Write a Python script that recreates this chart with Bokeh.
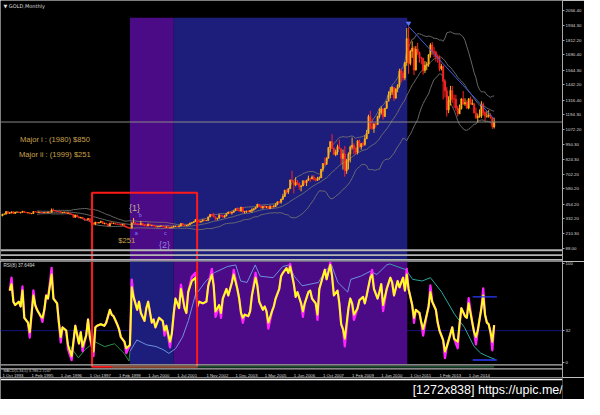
import numpy as np
import pandas as pd
from bokeh.plotting import figure
from bokeh.models import Range1d, FixedTicker, PrintfTickFormatter, Label, Span, ColumnDataSource
from bokeh.layouts import column
from bokeh.embed import file_html
from bokeh.resources import INLINE
from bokeh.core.properties import value

# ---------------- data ----------------
date_ticks = [0, 16, 32, 48, 64, 80, 96, 112, 128, 144, 160, 176, 192, 208, 224, 240, 256]
date_labels = ["1 Oct 1993", "1 Feb 1995", "1 Jun 1996", "1 Oct 1997", "1 Feb 1999", "1 Jun 2000",
               "1 Jul 2001", "1 Nov 2002", "1 Dec 2003", "1 Mar 2005", "1 Jun 2006", "1 Oct 2007",
               "1 Feb 2009", "1 Jun 2010", "1 Oct 2011", "1 Feb 2013", "1 Jun 2014"]
price_ticks = [88.00, 210.30, 332.20, 454.20, 580.20, 702.20, 824.30, 950.30, 1072.20, 1194.30,
               1316.40, 1442.20, 1564.30, 1690.40, 1812.20, 1934.30, 2056.40]
rsi_ticks = [0, 32, 100]
last_price = 1134.40

first_open = 355.5
closes = [
    369.6, 370.9, 391.8,
    377.9, 381.5, 389.8, 376.5, 387.6, 388.0, 384.0, 385.8, 394.9, 383.9, 383.1, 383.3,
    374.9, 376.4, 392.0, 389.8, 385.3, 387.1, 383.4, 382.4, 384.0, 382.7, 387.8, 387.0,
    405.4, 401.0, 396.3, 392.8, 390.9, 382.0, 385.3, 386.5, 379.2, 379.3, 371.3, 369.0,
    345.5, 363.9, 348.2, 340.2, 344.8, 334.6, 326.4, 325.4, 332.1, 311.4, 296.8, 289.9,
    304.5, 297.3, 301.0, 310.3, 293.6, 296.3, 288.9, 273.4, 293.9, 292.3, 294.7, 288.2,
    287.6, 287.3, 279.5, 286.6, 268.6, 261.3, 255.6, 254.8, 299.0, 299.1, 291.4, 290.3,
    283.7, 293.7, 278.4, 273.6, 272.3, 288.2,
    276.8, 278.3, 273.7, 264.5, 266.0, 269.1, 272.7, 265.6, 262.0, 266.7, 257.7, 259.0, 263.2, 267.2, 270.6,
    266.2, 273.0, 293.1, 278.8, 275.5, 276.5, 282.3, 296.8, 301.4, 308.2, 326.6, 318.5, 304.6, 312.8, 323.7, 316.9, 317.7,
    347.2, 367.5, 360.0, 347.5, 334.9, 336.8, 361.4, 355.0, 346.0, 354.8, 375.6, 388.0, 380.0, 386.3, 398.0,
    416.3,
    402.2, 396.8, 427.3, 388.5, 393.5, 395.5, 391.4, 400.0, 408.0, 415.6, 428.6, 453.0, 438.0, 422.3, 436.0,
    427.9,
    435.1, 416.5, 437.0, 429.5, 433.8, 450.0, 473.2, 470.3, 495.3, 517.0, 568.8, 556.0, 582.0, 654.5, 643.0,
    613.5, 632.5, 623.5, 599.3, 604.2, 646.7, 632.0,
    650.5, 665.5, 661.8, 677.0, 658.0, 650.5, 665.5, 672.0, 743.0, 789.5, 783.5, 833.8,
    923.3, 971.5, 916.0, 864.3, 885.8, 929.3, 912.8, 833.0, 870.5, 730.0, 814.5, 869.8,
    927.3, 942.0, 916.5, 883.3, 979.4, 927.3, 954.8, 948.8, 996.0, 1040.0, 1180.0, 1096.0,
    1081.0, 1118.0, 1113.0, 1180.0, 1213.0, 1244.0, 1181.0, 1248.0, 1307.0, 1357.0, 1384.0, 1421.0,
    1333.0, 1410.0, 1439.0, 1556.0, 1536.0, 1500.0, 1628.0, 1826.0, 1620.0, 1722.0, 1746.0, 1565.0,
    1737.0, 1710.0, 1669.0, 1664.0, 1561.0, 1604.0, 1615.0, 1692.0, 1773.0, 1719.0, 1712.0, 1675.0,
    1663.0, 1578.0, 1596.0, 1472.0, 1393.0, 1234.0, 1313.0, 1396.0, 1327.0, 1323.0, 1250.0, 1202.0,
    1244.0, 1326.0, 1284.0, 1296.0, 1250.0, 1327.0, 1282.0, 1287.0, 1210.0, 1171.0, 1183.0, 1183.0,
    1279.0, 1213.0, 1183.0, 1184.0, 1190.0, 1172.0, 1095.0, 1134.4,
]
highs = [
    374.5, 377.5, 395.5,
    396.0, 388.0, 392.0, 392.0, 390.0, 392.5, 392.0, 388.0, 397.0, 396.5, 389.5, 385.5,
    383.0, 380.0, 394.0, 396.0, 391.0, 391.0, 389.0, 389.0, 387.0, 387.0, 390.0, 389.0,
    418.0, 417.0, 401.5, 397.0, 395.0, 392.0, 387.5, 389.0, 387.0, 385.0, 382.0, 375.0,
    369.5, 365.0, 365.0, 349.0, 347.5, 346.0, 335.0, 331.0, 340.0, 339.0, 312.0, 299.0,
    307.0, 305.0, 302.0, 317.0, 311.0, 300.0, 298.0, 289.0, 300.0, 315.0, 301.0, 297.0,
    293.0, 291.0, 290.0, 291.0, 289.0, 269.0, 266.0, 259.0, 302.0, 339.0, 302.0, 294.0,
    292.0, 315.0, 294.0, 289.0, 280.0, 293.0,
    292.0, 280.0, 279.0, 275.0, 270.0, 272.0, 276.0, 273.0, 268.0, 268.0, 270.0, 264.0, 267.0, 276.0, 275.0,
    272.0, 280.0, 294.0, 294.0, 284.0, 281.0, 286.0, 300.0, 304.0, 311.0, 328.0, 331.0, 323.0, 315.0, 326.0, 325.0, 323.0,
    350.0, 372.0, 375.0, 382.0, 352.0, 340.0, 373.0, 366.0, 366.0, 365.0, 377.0, 390.0, 390.0, 391.0, 400.0,
    417.0,
    427.0, 419.0, 432.0, 428.0, 396.0, 399.0, 404.0, 406.0, 418.0, 419.0, 431.0, 456.0, 456.0, 440.0, 438.0,
    446.0,
    437.0, 435.0, 443.0, 437.0, 448.0, 462.0, 474.0, 480.0, 497.0, 539.0, 573.0, 575.0, 584.0, 656.0, 730.0,
    651.0, 677.0, 653.0, 634.0, 613.0, 651.0, 649.0,
    656.0, 690.0, 672.0, 691.0, 694.0, 672.0, 680.0, 684.0, 744.0, 795.0, 841.0, 842.0,
    925.0, 975.0, 1033.0, 924.0, 906.0, 947.0, 988.0, 915.0, 906.0, 936.0, 829.0, 883.0,
    939.0, 1006.0, 958.0, 926.0, 980.0, 990.0, 961.0, 970.0, 1026.0, 1069.0, 1195.0, 1227.0,
    1162.0, 1124.0, 1137.0, 1186.0, 1249.0, 1265.0, 1245.0, 1251.0, 1307.0, 1388.0, 1424.0, 1432.0,
    1424.0, 1411.0, 1448.0, 1576.0, 1578.0, 1556.0, 1632.0, 1913.0, 1920.0, 1733.0, 1804.0, 1763.0,
    1764.0, 1791.0, 1718.0, 1677.0, 1667.0, 1640.0, 1632.0, 1697.0, 1788.0, 1796.0, 1755.0, 1726.0,
    1696.0, 1686.0, 1617.0, 1603.0, 1488.0, 1424.0, 1348.0, 1434.0, 1433.0, 1362.0, 1361.0, 1267.0,
    1280.0, 1332.0, 1392.0, 1331.0, 1315.0, 1332.0, 1345.0, 1322.0, 1287.0, 1255.0, 1205.0, 1239.0,
    1307.0, 1296.0, 1224.0, 1224.0, 1232.0, 1205.0, 1175.0, 1170.0,
]
lows = [
    354.5, 367.0, 368.5,
    374.0, 374.0, 378.0, 371.5, 374.5, 381.0, 380.0, 376.0, 384.0, 383.0, 380.0, 376.5,
    371.5, 371.5, 373.0, 387.5, 382.0, 382.0, 382.0, 380.0, 381.0, 380.5, 382.0, 384.0,
    386.0, 396.0, 393.0, 390.0, 390.0, 379.0, 380.0, 384.0, 378.0, 375.0, 368.0, 366.0,
    343.0, 340.0, 347.0, 337.0, 338.0, 334.0, 314.0, 320.0, 322.0, 307.0, 294.0, 283.0,
    278.0, 294.0, 293.0, 301.0, 290.0, 286.0, 287.0, 272.0, 273.0, 291.0, 290.0, 286.0,
    285.0, 282.0, 278.0, 279.0, 268.0, 258.0, 252.0, 251.5, 254.0, 296.0, 287.0, 279.0,
    281.0, 282.0, 276.0, 271.0, 270.0, 272.0,
    276.0, 271.0, 270.0, 263.0, 262.0, 263.0, 267.0, 263.0, 258.0, 255.0, 255.0, 255.0, 255.0, 262.0, 265.0,
    264.0, 264.0, 271.0, 278.0, 270.0, 271.0, 277.0, 282.0, 288.0, 299.0, 307.0, 315.0, 301.0, 302.0, 311.0, 313.0, 314.0,
    317.0, 345.0, 352.0, 345.0, 319.0, 320.0, 336.0, 350.0, 342.0, 342.0, 354.0, 373.0, 370.0, 367.0, 383.0,
    398.0,
    398.0, 390.0, 391.0, 381.0, 375.0, 382.0, 387.0, 390.0, 382.0, 399.0, 411.0, 424.0, 427.0, 418.0, 415.0,
    423.0,
    422.0, 414.0, 414.0, 418.0, 428.0, 430.0, 445.0, 459.0, 457.0, 488.0, 513.0, 540.0, 538.0, 582.0, 642.0,
    542.0, 602.0, 612.0, 573.0, 560.0, 603.0, 613.0,
    603.0, 648.0, 636.0, 662.0, 650.0, 642.0, 648.0, 653.0, 671.0, 723.0, 775.0, 782.0,
    834.0, 887.0, 909.0, 864.0, 851.0, 862.0, 910.0, 786.0, 740.0, 681.0, 705.0, 741.0,
    800.0, 907.0, 867.0, 866.0, 866.0, 922.0, 905.0, 931.0, 937.0, 993.0, 1040.0, 1075.0,
    1072.0, 1045.0, 1088.0, 1115.0, 1164.0, 1196.0, 1155.0, 1175.0, 1242.0, 1308.0, 1330.0, 1360.0,
    1309.0, 1326.0, 1381.0, 1420.0, 1462.0, 1478.0, 1481.0, 1600.0, 1534.0, 1604.0, 1666.0, 1523.0,
    1562.0, 1691.0, 1627.0, 1612.0, 1527.0, 1540.0, 1564.0, 1592.0, 1667.0, 1692.0, 1672.0, 1636.0,
    1626.0, 1555.0, 1562.0, 1321.0, 1338.0, 1180.0, 1208.0, 1271.0, 1292.0, 1251.0, 1227.0, 1181.0,
    1202.0, 1238.0, 1277.0, 1268.0, 1241.0, 1240.0, 1282.0, 1274.0, 1206.0, 1160.0, 1131.0, 1170.0,
    1167.0, 1190.0, 1142.0, 1170.0, 1170.0, 1162.0, 1077.0, 1081.0,
]

# RSI(8) (bar index, value)
rsi_bar = [4, 5, 6, 7, 9, 10, 11, 12, 14, 15,
           17, 18, 19, 21, 22, 23, 24, 25, 27, 28,
           30, 31, 32, 33, 35, 36, 38, 40, 42, 43,
           44, 46, 47, 48, 50, 51, 52, 54, 56, 57,
           59, 60, 61, 63, 64, 65, 67, 68, 70, 71,
           72, 74, 75, 76, 78, 79, 80, 82, 83, 84,
           86, 88, 89, 90, 92, 93, 94, 95, 97, 98,
           100, 101, 102, 104, 106, 107, 108, 110, 112, 113,
           115, 116, 117, 119, 120, 121, 123, 124, 126, 127,
           129, 130, 131, 132, 133, 135, 136, 137, 139, 140,
           141, 143, 144, 145, 146, 148, 149, 150, 152, 153,
           154, 156, 157, 158, 160, 161, 162, 164, 165, 166,
           168, 169, 170, 172, 173, 174, 176, 177, 178, 180,
           181, 182, 184, 185, 186, 187, 188, 190, 191, 192,
           193, 195, 196, 198, 199, 200, 202, 203, 204, 206,
           207, 208, 209, 211, 213, 214, 215, 217, 218, 220,
           221, 222, 223, 225, 226, 227, 229, 230, 231, 233,
           234, 235, 236, 238, 239, 240, 242, 243, 244, 246,
           247, 248, 250, 251, 252, 254, 255, 256, 258, 259,
           260, 261, 263, 264, 265, 266, 267, 268, 269, 270]
rsi_val = [72.8, 79.4, 61.5, 58.1, 61.5, 56.6, 72.8, 45.1, 40.2, 30.4,
           67.9, 58.1, 53.2, 46.7, 45.1, 53.2, 67.9, 64.7, 89.2, 64.7,
           59.8, 40.2, 25.5, 35.3, 32.1, 17.4, 6.0, 37.0, 18.9, 30.4,
           15.7, 27.2, 43.4, 25.5, 10.8, 35.3, 37.0, 38.5, 37.0, 40.2,
           53.2, 48.3, 46.7, 38.5, 33.6, 25.5, 20.6, 14.0, 17.4, 76.2,
           66.4, 53.2, 61.5, 50.0, 41.9, 54.9, 61.5, 40.2, 43.4, 35.3,
           45.1, 41.9, 32.1, 37.0, 20.6, 28.7, 48.3, 64.7, 54.9, 74.5,
           54.9, 50.0, 71.3, 82.6, 86.0, 56.6, 61.5, 59.8, 61.5, 77.7,
           89.2, 77.7, 51.6, 58.1, 50.0, 64.7, 74.5, 67.9, 81.1, 89.2,
           74.5, 64.7, 50.0, 45.1, 48.3, 46.7, 51.6, 67.9, 86.0, 77.7,
           61.5, 53.2, 56.6, 51.6, 40.2, 51.6, 56.6, 64.7, 74.5, 87.5,
           90.9, 95.8, 90.9, 97.4, 79.4, 66.4, 71.3, 59.8, 51.6, 59.8,
           71.3, 72.8, 64.7, 59.8, 48.3, 74.5, 87.5, 94.1, 84.3, 99.0,
           87.5, 67.9, 72.8, 59.8, 38.5, 33.6, 23.8, 54.9, 64.7, 59.8,
           48.3, 54.9, 63.0, 66.4, 59.8, 67.9, 86.0, 89.2, 74.5, 64.7,
           71.3, 79.4, 58.1, 74.5, 86.0, 81.1, 67.9, 82.6, 76.2, 86.0,
           72.8, 89.2, 74.5, 58.1, 45.1, 53.2, 50.0, 40.2, 33.6, 48.3,
           56.6, 71.3, 61.5, 53.2, 40.2, 32.1, 22.3, 10.8, 15.7, 28.7,
           35.3, 23.8, 20.6, 38.5, 54.9, 46.7, 45.1, 59.8, 40.2, 30.4,
           25.5, 32.1, 54.9, 67.9, 48.3, 40.2, 38.5, 30.4, 20.6, 37.65]
# faster RSI (magenta) where it pokes out beyond the yellow line
mag_bar = [5, 11, 15, 17, 22, 27, 32, 36, 38, 44, 50, 68, 71, 89, 92, 98, 104, 106, 115, 117,
           120, 127, 132, 139, 146, 158, 165, 173, 180, 188, 193, 203, 209, 222, 226, 231, 235, 243,
           250, 256, 260, 264, 269]
mag_val = [86, 77, 25, 73, 41, 96, 20, 13, 2, 11, 6, 9, 84, 27, 15, 79, 87, 91, 95, 46,
           45, 94, 40, 91, 34, 100, 46, 43, 101, 16, 43, 94, 52, 95, 40, 27, 78, 4,
           14, 65, 18, 75, 12]
# envelope-like lines in the RSI window
green_bar = [37.4, 41.7, 45.4, 50.8, 56.1, 61.5, 66.8, 69.5, 70.0]
green_val = [15.7, 4.2, 12.7, 20.6, 15.7, 18.6, 8.8, 1.0, 10.8]
lblue_bar = [70.0, 73.8, 79.1, 84.4, 88.2, 91.4, 95.1, 98.9, 102.1, 105.8, 111.2, 116.5, 123.6, 128.1,
             130.8, 134.3, 138.8, 141.5, 148.6, 153.9, 157.5, 160.2, 164.6, 173.5, 177.1, 180.7, 184.2,
             189.6, 191.3, 196.7, 202.0, 205.6, 211.0, 212.7]
lblue_val = [10.8, 22.5, 17.6, 15.7, 12.7, 8.8, 13.7, 25.5, 42.2, 67.6, 81.4, 91.2, 97.4, 99.0,
             82.6, 81.1, 99.0, 87.5, 86.0, 97.4, 99.0, 87.5, 77.7, 81.1, 92.5, 99.0, 81.1,
             71.3, 84.3, 87.5, 92.5, 89.2, 99.0, 100.0]
teal_bar = [212.7, 221.6, 225.2, 230.5, 235.0, 241.2, 248.4, 253.7, 259.0, 262.6, 266.2, 270.6]
teal_val = [100.0, 94.1, 84.3, 82.6, 86.0, 71.3, 48.3, 35.3, 15.7, 9.1, 5.9, 2.6]
rsi_level = 32
chan_bar = [258.2, 271.5]
chan_levels = [66.4, 2.0]

# drawn objects
zone_bars = [70.0, 94.1, 222.3]          # rectangle edges (bar index)
zone_top_price = 1998.0
box_bars = [49.2, 106.9]                 # red box edges
box_top_price = 548.0
trend_bar = [223, 270]
trend_price = [1928.0, 1160.0]

ann_text = ["Major i : (1980) $850", "Major ii : (1999) $251", "{1}", "b", "a", "$251", "c", "{2}"]
ann_bar = [9.6, 9.1, 69.5, 74.8, 72.7, 63.6, 88.7, 86.0]
ann_price = [986.0, 866.6, 420.0, 364.0, 213.0, 149.4, 213.0, 117.5]
ann_color = ["#c9a24c", "#c9a24c", "#bdb48e", "#7d7dff", "#7d7dff", "#c9a24c", "#7d7dff", "#9a7fe6"]
ann_size = ["7.6px", "7.6px", "9px", "5.5px", "5.5px", "7.6px", "5.5px", "9px"]

# ---------------- layout (reference px -> figure px) ----------------
W, HA, HB, HC = 584, 261, 116, 22
RB = 22
SX, SY = W / 600.0, 399.0 / 415.0
FW = W - RB
PXB, X0 = 1.871, 2.0                       # px per bar, x of bar 0 (reference px)
REF_R = FW / SX
xr = Range1d((0 - X0) / PXB, (REF_R - X0) / PXB)

P88, PSLOPE = 257.7, 0.12548               # price scale: ref y of 88.00, px per $
def price_at(ry):
    return 88.0 + (P88 - ry) / PSLOPE
R0, RSLOPE = 376.0, 1.02                   # RSI scale: ref y of 0, px per unit
def rsi_at(ry):
    return (R0 - ry) / RSLOPE

A_BOT = HA / SY
B_BOT = (HA + HB) / SY

FONT = "Liberation Sans"
GRAY = "#a9a9a9"


def make_fig(height, x_range, y_range, right_axis):
    p = figure(width=W, height=height, x_range=x_range, y_range=y_range, title=None,
               x_axis_location=None, y_axis_location=("right" if right_axis else None),
               toolbar_location=None, output_backend="svg",
               background_fill_color="black", border_fill_color="black",
               outline_line_color=None, min_border_left=0, min_border_top=0,
               min_border_bottom=0, min_border_right=(RB if right_axis else 0))
    p.xgrid.visible = False
    p.ygrid.visible = False
    if right_axis:
        ax = p.yaxis[0]
        ax.axis_line_color = GRAY
        ax.axis_line_width = 1
        ax.major_tick_line_color = GRAY
        ax.major_tick_out = 2
        ax.major_tick_in = 0
        ax.minor_tick_out = 0
        ax.minor_tick_in = 0
        ax.major_label_standoff = 1
        ax.major_label_text_font = FONT
        ax.major_label_text_font_size = "4.4px"
        ax.major_label_text_color = "#d8d8d8"
    return p

# ---------------- price window ----------------
pA = make_fig(HA, xr, Range1d(price_at(A_BOT), price_at(0)), True)
pA.extra_y_ranges = {"sy": Range1d(A_BOT, 0)}
pA.extra_x_ranges = {"sx": Range1d(0, REF_R)}
pA.yaxis[0].ticker = FixedTicker(ticks=price_ticks)
pA.yaxis[0].formatter = PrintfTickFormatter(format="%.2f")

bottomA = price_at(A_BOT)
pA.quad(left=[zone_bars[0]], right=[zone_bars[1]], top=[zone_top_price], bottom=[bottomA],
        fill_color="#4b0a86", line_color=None)
pA.quad(left=[zone_bars[1]], right=[zone_bars[2]], top=[zone_top_price], bottom=[bottomA],
        fill_color="#1d1d7c", line_color=None)

c = np.array(closes, dtype=float)
h = np.array(highs, dtype=float)
l = np.array(lows, dtype=float)
n = min(len(c), len(h), len(l))
c, h, l = c[:n], h[:n], l[:n]
o = np.concatenate([[first_open], c[:-1]])
bars = np.arange(n)

s = pd.Series(c)
mid = s.rolling(20).mean()
sd = s.rolling(20).std(ddof=0)
bb = ColumnDataSource(dict(x=bars[19:], up=(mid + 2 * sd)[19:], mid=mid[19:], lo=(mid - 2 * sd)[19:]))
for key in ("up", "mid", "lo"):
    pA.line("x", key, source=bb, line_color="#727272", line_width=0.9)

pA.add_layout(Span(location=last_price, dimension="width", line_color="#8a8a8a", line_width=1))

up = c >= o
cols = np.where(up, "#ffb11a", "#ff2424")
cs = ColumnDataSource(dict(x=bars, top=np.maximum(o, c), bot=np.minimum(o, c), h=h, l=l, col=cols))
pA.segment(x0="x", y0="l", x1="x", y1="h", source=cs, line_color="col", line_width=1)
pA.vbar(x="x", width=0.68, top="top", bottom="bot", source=cs, fill_color="col",
        line_color="col", line_width=0.6)

pA.line(trend_bar, trend_price, line_color="#3f5fe0", line_width=1)
pA.scatter([trend_bar[0]], [trend_price[0] + 25], marker="inverted_triangle", size=4,
           fill_color="#5a78ff", line_color="#5a78ff")

# red box (upper part)
pA.multi_line(xs=[[box_bars[0], box_bars[0], box_bars[1], box_bars[1]]],
              ys=[[bottomA, box_top_price, box_top_price, bottomA]],
              line_color="#ff1a1a", line_width=2)

# separators between windows
for ry in (259.8, 264.8, 269.8):
    pA.add_layout(Span(location=ry, dimension="width", y_range_name="sy",
                       line_color="#b4b4b4", line_width=1.9))

ann = ColumnDataSource(dict(x=ann_bar, y=ann_price, t=ann_text, col=ann_color, size=ann_size))
pA.text(x="x", y="y", text="t", source=ann, text_color="col", text_font_size="size",
        text_font=value(FONT), text_align="left", text_baseline="middle")

pA.text(x=[3.0], y=[5.5], text=["\u25bc GOLD,Monthly"], x_range_name="sx", y_range_name="sy",
        text_color="#dcdcdc", text_font=value("DejaVu Sans"), text_font_size="5px",
        text_baseline="middle", text_align="left")

pA.add_layout(Label(x=xr.end, y=last_price, x_offset=1.5, text="1134.40", text_font=FONT,
                    text_font_size="4.4px", text_color="black", background_fill_color="white",
                    text_baseline="middle", text_align="left"))

# ---------------- RSI window ----------------
pB = make_fig(HB, xr, Range1d(rsi_at(B_BOT), rsi_at(A_BOT)), True)
pB.extra_y_ranges = {"sy": Range1d(B_BOT, A_BOT)}
pB.extra_x_ranges = {"sx": Range1d(0, REF_R)}
pB.yaxis[0].ticker = FixedTicker(ticks=rsi_ticks)

pB.add_layout(Span(location=rsi_level, dimension="width", line_color="#14147a",
                   line_width=1, level="underlay"))
rtop, rbot = rsi_at(A_BOT), rsi_at(378.0)
pB.quad(left=[zone_bars[0]], right=[zone_bars[1]], top=[rtop], bottom=[rbot],
        fill_color="#1d1d7c", line_color=None)
pB.quad(left=[zone_bars[1]], right=[zone_bars[2]], top=[rtop], bottom=[rbot],
        fill_color="#4b0a86", line_color=None)

pB.line(green_bar, green_val, line_color="#2f8f4a", line_width=1)
pB.line(lblue_bar, lblue_val, line_color="#6c93dc", line_width=1)
pB.line(teal_bar, teal_val, line_color="#2aa79a", line_width=1)

fast = dict(zip(rsi_bar, rsi_val))
fast.update(dict(zip(mag_bar, mag_val)))
pB.line(rsi_bar, [fast[b] for b in rsi_bar], line_color="#ff22ff", line_width=2.3,
        line_join="round")
pB.line(rsi_bar, rsi_val, line_color="#ffff1e", line_width=2.0, line_join="round")

for lv in chan_levels:
    pB.line(chan_bar, [lv, lv], line_color="#2a3cff", line_width=1.4)

# red box (lower part)
pB.multi_line(xs=[[box_bars[0], box_bars[0], box_bars[1], box_bars[1]]],
              ys=[[A_BOT, 381.0, 381.0, A_BOT]], y_range_name="sy",
              line_color="#ff1a1a", line_width=2)

for ry in (379.0, 383.2):
    pB.add_layout(Span(location=ry, dimension="width", y_range_name="sy",
                       line_color="#b4b4b4", line_width=1.3))
pB.line([60, 270], [381.1, 381.1], y_range_name="sy", line_color="#2e7d4f", line_width=1)

pB.text(x=[3.0], y=[275.5], text=["RSI(8) 37.6494"], x_range_name="sx", y_range_name="sy",
        text_color="#dcdcdc", text_font=value(FONT), text_font_size="4.6px",
        text_baseline="middle", text_align="left")
pB.text(x=[3.0], y=[385.6], text=["MACD(5,34,5) 3.786 2.7247"], x_range_name="sx",
        y_range_name="sy", text_color="#c8c8c8", text_font=value(FONT),
        text_font_size="3.8px", text_baseline="middle", text_align="left")
pB.text(x=date_ticks, y=[389.6] * len(date_ticks), text=date_labels, y_range_name="sy",
        text_color="#dcdcdc", text_font=value(FONT), text_font_size="4.3px",
        text_baseline="middle", text_align="left")

# ---------------- footer ----------------
pC = make_fig(HC, Range1d(0, 600), Range1d(415, B_BOT), False)
pC.add_layout(Span(location=394.3, dimension="width", line_color="white", line_width=1.5))
pC.text(x=[440.0], y=[405.0], text=["[1272x838] https://upic.me/"], text_color="white",
        text_font=value(FONT), text_font_size="12.5px", text_baseline="middle", text_align="left")

layout = column(pA, pB, pC, spacing=0)
open("out.html", "w").write(file_html(layout, INLINE))
